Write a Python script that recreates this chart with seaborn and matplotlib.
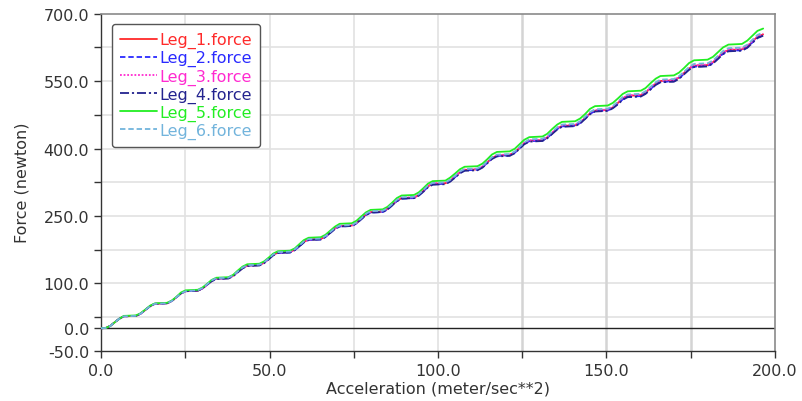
import matplotlib
matplotlib.use("Agg")
import matplotlib.pyplot as plt
import seaborn as sns
import pandas as pd
from matplotlib.ticker import FixedLocator, FormatStrFormatter

# Acceleration samples (meter/sec**2) shared by all six legs
accel = [
    0.0, 1.4, 2.8, 4.1, 5.5, 6.8,
    10.4, 11.8, 13.2, 14.6, 16.0,
    19.6, 21.0, 22.4, 23.7, 25.1,
    28.7, 30.1, 31.5, 32.8, 34.2,
    37.8, 39.2, 40.6, 42.0, 43.4,
    47.0, 48.4, 49.8, 51.1, 52.5,
    56.1, 57.5, 58.9, 60.2, 61.6,
    65.2, 66.6, 68.0, 69.4, 70.8,
    74.4, 75.8, 77.2, 78.6, 80.0,
    83.6, 85.0, 86.4, 87.8, 89.2,
    92.9, 94.3, 95.7, 97.0, 98.4,
    102.2, 103.6, 105.1, 106.5, 107.9,
    111.7, 113.2, 114.6, 116.0, 117.5,
    121.3, 122.8, 124.2, 125.6, 127.1,
    131.0, 132.4, 133.9, 135.4, 136.8,
    140.7, 142.2, 143.7, 145.1, 146.6,
    150.4, 151.9, 153.4, 154.8, 156.3,
    160.2, 161.6, 163.1, 164.6, 166.0,
    170.0, 171.5, 173.0, 174.5, 176.0,
    180.0, 181.6, 183.1, 184.6, 186.2,
    190.2, 191.8, 193.3, 194.8, 196.5,
]

# Leg forces (newton)
leg_1 = [
    0.0, 0.5, 5.4, 13.5, 21.6, 26.5,
    27.6, 32.6, 41.0, 49.4, 54.4,
    55.6, 60.6, 69.0, 77.4, 82.4,
    83.6, 88.6, 97.0, 105.4, 110.4,
    111.6, 116.8, 125.5, 134.2, 139.4,
    140.6, 145.8, 154.5, 163.2, 168.4,
    169.6, 174.8, 183.5, 192.2, 197.4,
    198.6, 204.0, 213.0, 222.0, 227.4,
    228.6, 234.2, 243.5, 252.8, 258.4,
    259.6, 265.2, 274.5, 283.8, 289.4,
    290.6, 296.4, 306.0, 315.6, 321.4,
    322.6, 328.2, 337.5, 346.8, 352.4,
    353.6, 359.4, 369.0, 378.6, 384.4,
    385.7, 391.6, 401.5, 411.4, 417.3,
    418.7, 424.6, 434.5, 444.4, 450.3,
    451.7, 457.8, 468.0, 478.2, 484.3,
    485.7, 491.6, 501.5, 511.4, 517.3,
    518.7, 524.6, 534.5, 544.4, 550.3,
    551.7, 557.8, 568.0, 578.2, 584.3,
    585.7, 592.0, 602.5, 613.0, 619.3,
    620.7, 627.2, 638.0, 648.8, 654.0,
]

leg_2 = [
    0.0, 0.5, 5.4, 13.5, 21.6, 26.5,
    27.6, 32.6, 41.0, 49.4, 54.4,
    55.6, 60.6, 69.0, 77.4, 82.4,
    83.6, 88.6, 97.0, 105.4, 110.4,
    111.6, 116.8, 125.5, 134.2, 139.4,
    140.6, 145.8, 154.5, 163.2, 167.4,
    168.6, 173.8, 182.5, 191.2, 196.4,
    197.6, 203.0, 212.0, 221.0, 226.4,
    227.6, 233.2, 242.5, 251.8, 257.4,
    258.6, 264.2, 273.5, 282.8, 288.4,
    289.6, 295.4, 305.0, 314.6, 320.4,
    321.6, 327.2, 336.5, 345.8, 351.4,
    352.6, 358.4, 368.0, 377.6, 383.4,
    384.7, 390.6, 400.5, 410.4, 416.3,
    417.7, 423.6, 433.5, 443.4, 449.3,
    450.7, 456.8, 467.0, 477.2, 483.3,
    484.7, 490.6, 499.5, 509.4, 515.3,
    516.7, 522.6, 532.5, 542.4, 548.3,
    549.7, 555.8, 566.0, 576.2, 582.3,
    583.7, 590.0, 600.5, 611.0, 617.3,
    618.7, 625.2, 636.0, 646.8, 652.0,
]

leg_3 = [
    0.0, 0.5, 5.4, 13.5, 21.6, 26.5,
    27.6, 32.6, 41.0, 49.4, 54.4,
    55.6, 60.6, 69.0, 77.4, 82.4,
    83.6, 88.6, 97.0, 105.4, 110.4,
    111.6, 116.8, 125.5, 134.2, 139.4,
    140.6, 145.8, 154.5, 163.2, 168.4,
    169.6, 174.8, 183.5, 192.2, 197.4,
    198.6, 204.0, 213.0, 222.0, 227.4,
    228.6, 234.2, 243.5, 253.8, 259.4,
    260.6, 266.2, 275.5, 284.8, 290.4,
    291.6, 297.4, 307.0, 316.6, 322.4,
    323.6, 329.2, 338.5, 347.8, 353.4,
    354.6, 360.4, 370.0, 379.6, 385.4,
    386.7, 392.6, 402.5, 412.4, 418.3,
    419.7, 425.6, 435.5, 445.4, 451.3,
    452.7, 458.8, 469.0, 479.2, 485.3,
    486.7, 492.6, 502.5, 512.4, 518.3,
    519.7, 525.6, 535.5, 545.4, 551.3,
    552.7, 558.8, 569.0, 579.2, 585.3,
    586.7, 593.0, 603.5, 614.0, 620.3,
    621.7, 628.2, 639.0, 649.8, 655.0,
]

leg_4 = [
    0.0, 0.5, 5.4, 13.5, 21.6, 26.5,
    27.6, 32.6, 41.0, 49.4, 54.4,
    55.6, 60.6, 69.0, 77.4, 82.4,
    83.6, 88.6, 97.0, 104.4, 109.4,
    110.6, 115.8, 124.5, 133.2, 138.4,
    139.6, 144.8, 153.5, 162.2, 167.4,
    168.6, 173.8, 182.5, 191.2, 196.4,
    197.6, 203.0, 212.0, 221.0, 226.4,
    227.6, 233.2, 242.5, 251.8, 257.4,
    258.6, 264.2, 273.5, 282.8, 288.4,
    289.6, 295.4, 304.0, 313.6, 319.4,
    320.6, 326.2, 335.5, 344.8, 350.4,
    351.6, 357.4, 367.0, 376.6, 382.4,
    383.7, 389.6, 399.5, 409.4, 415.3,
    416.7, 422.6, 432.5, 442.4, 448.3,
    449.7, 455.8, 466.0, 476.2, 482.3,
    483.7, 489.6, 498.5, 508.4, 514.3,
    515.7, 521.6, 531.5, 541.4, 547.3,
    548.7, 554.8, 565.0, 575.2, 581.3,
    582.7, 589.0, 599.5, 610.0, 616.3,
    617.7, 624.2, 635.0, 645.8, 651.0,
]

leg_5 = [
    0.0, 0.5, 5.4, 13.5, 21.6, 27.5,
    28.6, 33.6, 42.0, 50.4, 55.4,
    56.6, 61.6, 70.0, 79.4, 84.4,
    85.6, 90.6, 99.0, 107.4, 112.4,
    113.6, 118.8, 128.5, 137.2, 142.4,
    143.6, 148.8, 157.5, 166.2, 171.4,
    172.6, 177.8, 187.5, 196.2, 201.4,
    202.6, 208.0, 217.0, 226.0, 232.4,
    233.6, 239.2, 248.5, 257.8, 263.4,
    264.6, 270.2, 279.5, 289.8, 295.4,
    296.6, 302.4, 312.0, 321.6, 327.4,
    328.6, 335.2, 344.5, 353.8, 359.4,
    360.6, 366.4, 376.0, 386.6, 392.4,
    393.7, 399.6, 409.5, 419.4, 425.3,
    426.7, 432.6, 443.5, 453.4, 459.3,
    460.7, 466.8, 477.0, 488.2, 494.3,
    495.7, 501.6, 511.5, 521.4, 527.3,
    528.7, 534.6, 545.5, 555.4, 561.3,
    562.7, 568.8, 579.0, 590.2, 596.3,
    597.7, 604.0, 614.5, 625.0, 631.3,
    632.7, 640.2, 651.0, 661.8, 667.0,
]

leg_6 = [
    0.0, 0.5, 5.4, 13.5, 21.6, 26.5,
    27.6, 32.6, 41.0, 49.4, 54.4,
    55.6, 60.6, 69.0, 77.4, 82.4,
    84.6, 89.6, 98.0, 106.4, 111.4,
    112.6, 117.8, 126.5, 135.2, 140.4,
    141.6, 146.8, 155.5, 164.2, 169.4,
    170.6, 175.8, 184.5, 193.2, 198.4,
    199.6, 205.0, 214.0, 223.0, 228.4,
    229.6, 235.2, 244.5, 254.8, 260.4,
    261.6, 267.2, 276.5, 285.8, 291.4,
    292.6, 298.4, 308.0, 317.6, 323.4,
    324.6, 330.2, 339.5, 348.8, 354.4,
    355.6, 361.4, 371.0, 380.6, 386.4,
    387.7, 393.6, 403.5, 413.4, 420.3,
    421.7, 427.6, 437.5, 447.4, 453.3,
    454.7, 460.8, 471.0, 481.2, 487.3,
    488.7, 494.6, 504.5, 514.4, 520.3,
    521.7, 527.6, 537.5, 547.4, 553.3,
    554.7, 560.8, 571.0, 581.2, 588.3,
    589.7, 596.0, 606.5, 617.0, 623.3,
    624.7, 631.2, 642.0, 652.8, 658.0,
]

leg_names = ["Leg_1.force", "Leg_2.force", "Leg_3.force",
             "Leg_4.force", "Leg_5.force", "Leg_6.force"]
leg_values = [leg_1, leg_2, leg_3, leg_4, leg_5, leg_6]
leg_colors = ["#ff2a2a", "#2a2aff", "#ff2ad0", "#23238f", "#22ee22", "#72b4dc"]
leg_styles = ["-", (0, (3, 1.6)), (0, (1, 1)), (0, (5, 1.6, 1.2, 1.6)), "-", (0, (3, 1.6))]

y_major = [-50, 0, 100, 250, 400, 550, 700]
y_minor = [25, 175, 325, 475, 625]
x_major = [0, 50, 100, 150, 200]
x_minor = [25, 75, 125, 175]

sns.set_style("white")
plt.rcParams["font.family"] = ["DejaVu Sans"]
plt.rcParams["font.size"] = 11.5

fig = plt.figure(figsize=(8.03, 4.02), dpi=100)
ax = fig.add_axes([0.1258, 0.1251, 0.8393, 0.8383])

# Background grid
for gy in [25, 100, 175, 250, 325, 400, 475, 550, 625]:
    ax.axhline(gy, color="#e2e2e2", lw=1.2, zorder=0)
for gx in [25, 50, 75, 100]:
    ax.axvline(gx, color="#e2e2e2", lw=1.2, zorder=0)
for gx in [125, 150, 175]:
    ax.axvline(gx, color="#d4d4d4", lw=1.8, zorder=0)
ax.axhline(0, color="#222222", lw=1.0, zorder=1)

frame = pd.DataFrame({"accel": accel})
for name, vals, col, ls in zip(leg_names, leg_values, leg_colors, leg_styles):
    frame[name] = vals
    sns.lineplot(x="accel", y=name, data=frame, ax=ax, color=col, linestyle=ls,
                 lw=1.3, label=name, sort=False, estimator=None, zorder=3)

ax.set_xlim(0, 200)
ax.set_ylim(-50, 700)
ax.xaxis.set_major_locator(FixedLocator(x_major))
ax.xaxis.set_minor_locator(FixedLocator(x_minor))
ax.yaxis.set_major_locator(FixedLocator(y_major))
ax.yaxis.set_minor_locator(FixedLocator(y_minor))
ax.xaxis.set_major_formatter(FormatStrFormatter("%.1f"))
ax.yaxis.set_major_formatter(FormatStrFormatter("%.1f"))
ax.tick_params(axis="both", which="both", direction="out", length=5, width=1,
               color="#333333", labelcolor="#333333", labelsize=11.5,
               bottom=True, left=True)
ax.tick_params(axis="x", which="major", pad=4)

for side in ["left", "bottom"]:
    ax.spines[side].set_color("#333333")
    ax.spines[side].set_linewidth(1.0)
for side in ["top", "right"]:
    ax.spines[side].set_color("#8a8a8a")
    ax.spines[side].set_linewidth(1.2)

ax.set_xlabel("Acceleration (meter/sec**2)", fontsize=11.5, color="#333333", labelpad=2)
ax.set_ylabel("Force (newton)", fontsize=11.5, color="#333333", labelpad=10)

leg = ax.legend(loc="upper left", bbox_to_anchor=(0.016, 0.969), frameon=True,
                fancybox=True, framealpha=1, edgecolor="#555555",
                fontsize=11.5, handlelength=2.3, handletextpad=0.2,
                labelspacing=0.12, borderpad=0.5, borderaxespad=0.0)
leg.get_frame().set_linewidth(1.0)
for txt, col in zip(leg.get_texts(), leg_colors):
    txt.set_color(col)

fig.savefig("out.png", dpi=100)
